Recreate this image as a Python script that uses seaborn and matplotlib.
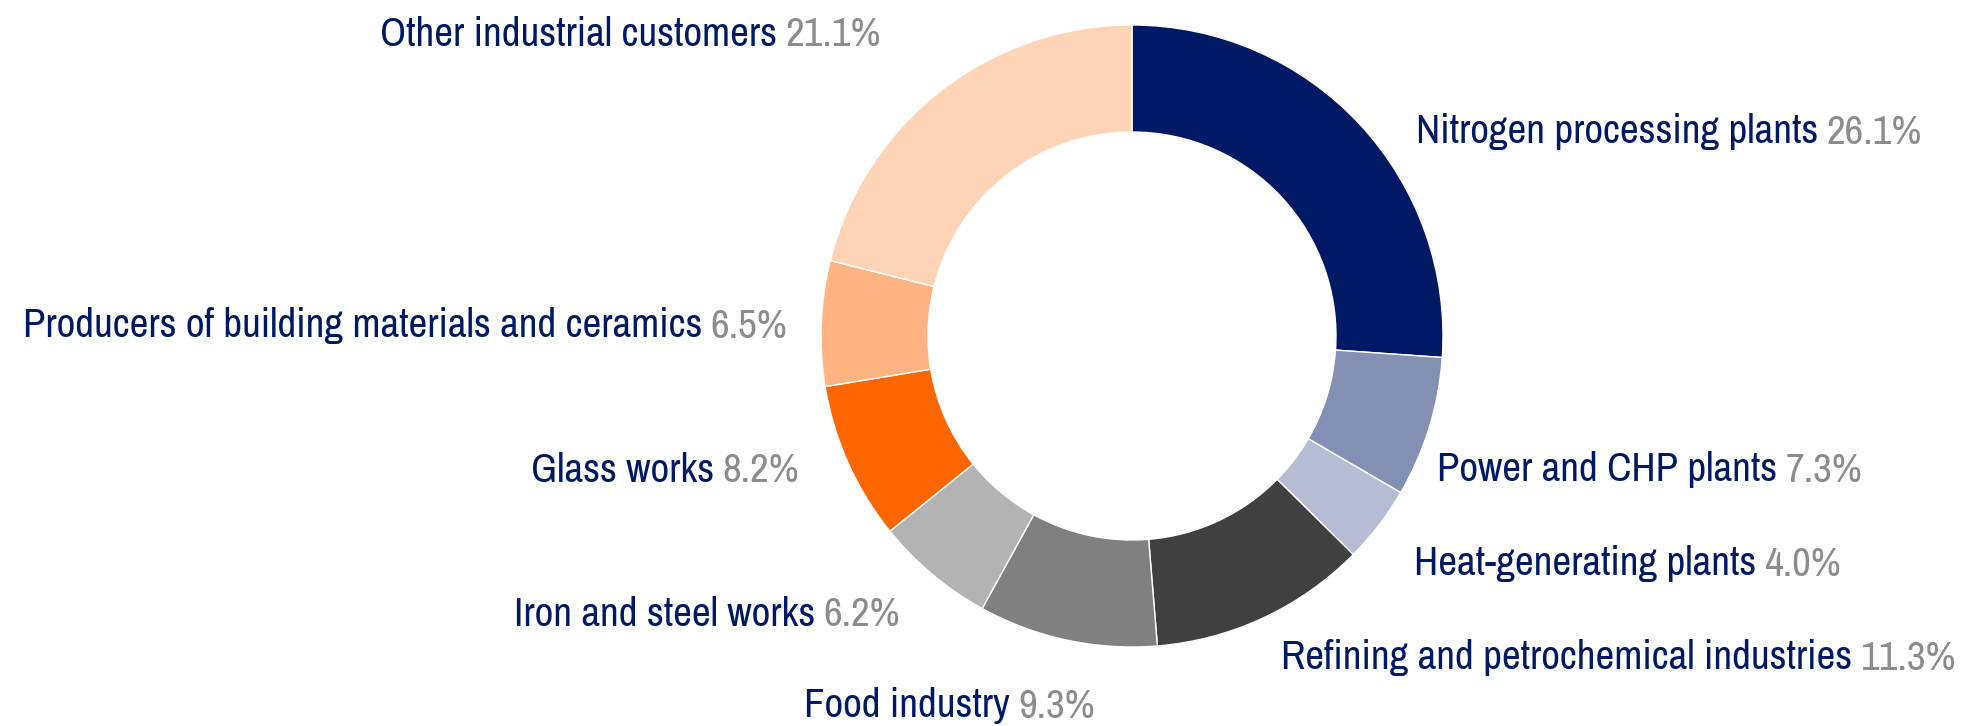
import matplotlib
matplotlib.use("Agg")
import matplotlib.pyplot as plt
import seaborn as sns
from matplotlib import font_manager

# Gas consumers by segment, share in %
segments = ["Nitrogen processing plants", "Power and CHP plants", "Heat-generating plants",
            "Refining and petrochemical industries", "Food industry", "Iron and steel works",
            "Glass works", "Producers of building materials and ceramics", "Other industrial customers"]
shares = [26.1, 7.3, 4.0, 11.3, 9.3, 6.2, 8.2, 6.5, 21.1]
colors = ["#001965", "#8390B4", "#B4BDD4", "#404040", "#808080", "#B3B3B3",
          "#FF6600", "#FFB380", "#FFD3B5"]

# label anchors in pixel space (right end x, centre y from top)
label_pos = [(1922, 132), (1862, 470), (1841, 564), (1956, 658), (1095, 706),
             (900, 614), (799, 471), (787, 326), (881, 35)]

sns.set_theme(style="white")
names = sorted({f.name for f in font_manager.fontManager.ttflist})
cond = [n for n in names if "Narrow" in n or "Condensed" in n]
fam = cond[0] if cond else "DejaVu Sans"
plt.rcParams["font.family"] = [fam, "DejaVu Sans"]

W, H = 1966, 726
fig = plt.figure(figsize=(W / 100, H / 100), dpi=100)
ax = fig.add_axes([0, 0, 1, 1])

ax.pie(shares, colors=colors, startangle=90, counterclock=False,
       center=(1132, H - 336), radius=311,
       wedgeprops=dict(width=107, edgecolor="white", linewidth=1))
# pie() resets the limits, so set them afterwards
ax.set_xlim(0, W)
ax.set_ylim(0, H)
ax.set_aspect("equal")
ax.axis("off")

navy = "#001965"
grey = "#8C8C8C"
fs = 29.5
for name, val, (x, y) in zip(segments, shares, label_pos):
    pct = f"{val:.1f}%"
    t = ax.text(x, H - y, pct, color=grey, fontsize=fs, ha="right", va="center",
                fontstretch="condensed")
    ax.annotate(name, xy=(0, 0.5), xycoords=t, xytext=(-6, 0), textcoords="offset points",
                color=navy, fontsize=fs, ha="right", va="center", fontstretch="condensed")

fig.savefig("out.png", dpi=100)
